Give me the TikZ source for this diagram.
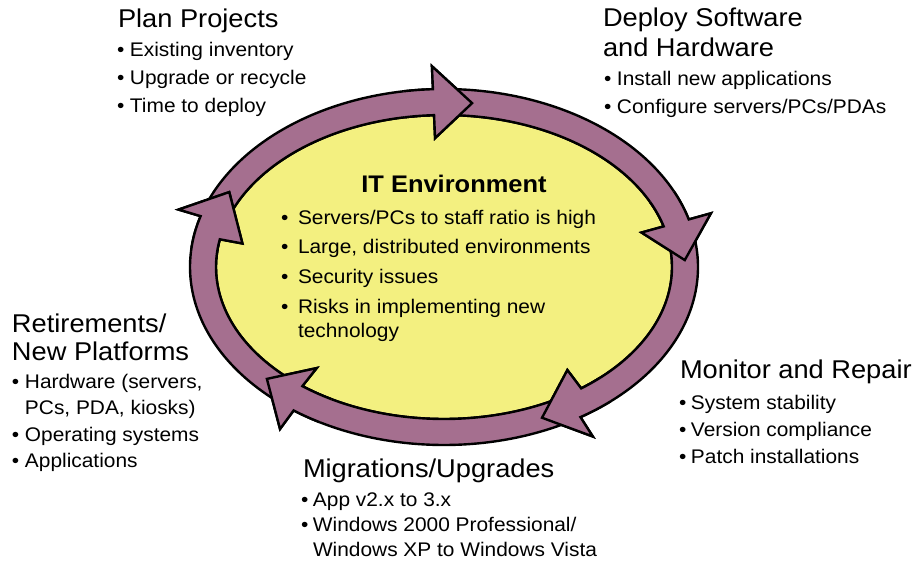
\documentclass[tikz,border=0pt]{standalone}
\usepackage{fontspec}
\setmainfont{Liberation Sans}[FakeStretch=1.06]
\definecolor{ringfill}{RGB}{165,111,143}
\definecolor{envfill}{RGB}{243,240,128}

% ring geometry: centre (444,267), band mid radii 241/165, band half width 13, head half width 36
\newcommand\segpath[4]{% #1 start angle, #2 outer end, #3 inner end, #4 tip angle
  plot[domain=#1:#2,samples=60,variable=\t] ({444+254*cos(\t)},{267-178*sin(\t)})
  -- ({444+277*cos(#2)},{267-201*sin(#2)})
  -- ({444+241*cos(#4)},{267-165*sin(#4)})
  -- ({444+205*cos(#3)},{267-129*sin(#3)})
  -- plot[domain=#3:#1,samples=60,variable=\t] ({444+228*cos(\t)},{267-152*sin(\t)})
  -- cycle}
\newcommand\headspot[3]{({444+(277*cos(#1)+205*cos(#2)+241*cos(#3))/3},{267-(201*sin(#1)+129*sin(#2)+165*sin(#3))/3})}

% bulleted lists
\newlength\bltind
\newcommand\blt[1]{\par\hangindent=\bltind\hangafter=1\noindent\makebox[\bltind][l]{\textbullet}#1}
\newcommand\listbox[4]{\parbox[t]{330pt}{\setlength\bltind{#1}\fontsize{19.7}{#2}\selectfont\setlength\parskip{#3}\raggedright #4}}
\newcommand\titlebox[2]{\parbox[t]{330pt}{\fontsize{25.7}{#1}\selectfont\raggedright #2}}

\begin{document}
\begin{tikzpicture}[x=1pt,y=-1pt,
  ring/.style={fill=ringfill,draw=black,line width=2.4pt,line join=miter},
  txt/.style={anchor=base west,inner sep=0pt,outer sep=0pt}]
\useasboundingbox (0,0) rectangle (915,564);
\fill[white] (0,0) rectangle (915,564);

% central environment
\filldraw[fill=envfill,draw=black,line width=2.4pt] (444,267) ellipse [x radius=228pt,y radius=152pt];

% cycle arrows, first pass
\path[ring] \segpath{161}{92.5}{92.5}{83.3};
\path[ring] \segpath{89}{15.5}{15.5}{2.4};
\path[ring] \segpath{10.3}{-57.5}{-53}{-66};
\path[ring] \segpath{-59.5}{-126.3}{-128.4}{-137.3};
\path[ring] \segpath{-131}{-196.6}{-190.5}{-207};

% arrow heads lie on top of the following band
\begin{scope}\clip \headspot{92.5}{92.5}{83.3} circle (44pt);
  \path[ring] \segpath{161}{92.5}{92.5}{83.3};\end{scope}
\begin{scope}\clip \headspot{15.5}{15.5}{2.4} circle (44pt);
  \path[ring] \segpath{89}{15.5}{15.5}{2.4};\end{scope}
\begin{scope}\clip \headspot{-57.5}{-53}{-66} circle (44pt);
  \path[ring] \segpath{10.3}{-57.5}{-53}{-66};\end{scope}
\begin{scope}\clip \headspot{-126.3}{-128.4}{-137.3} circle (44pt);
  \path[ring] \segpath{-59.5}{-126.3}{-128.4}{-137.3};\end{scope}
\begin{scope}\clip \headspot{-196.6}{-190.5}{-207} circle (44pt);
  \path[ring] \segpath{-131}{-196.6}{-190.5}{-207};\end{scope}

% centre text
\node[anchor=base,inner sep=0pt] (env-title) at (454,193)
  {\fontsize{24}{28}\selectfont\bfseries IT Environment};
\node[txt] (env-list) at (281,224) {\listbox{17pt}{24pt}{5.7pt}{%
  \blt{Servers/PCs to staff ratio is high}
  \blt{Large, distributed environments}
  \blt{Security issues}
  \blt{Risks in implementing new\newline technology}}};

% stages
\node[txt] (plan-title) at (118,28) {\titlebox{30pt}{Plan Projects}};
\node[txt] (plan-list) at (117,57) {\listbox{13pt}{28pt}{0pt}{%
  \blt{Existing inventory}
  \blt{Upgrade or recycle}
  \blt{Time to deploy}}};

\node[txt] (deploy-title) at (603,27) {\titlebox{30pt}{Deploy Software\\and Hardware}};
\node[txt] (deploy-list) at (604,86) {\listbox{13pt}{28pt}{0pt}{%
  \blt{Install new applications}
  \blt{Configure servers/PCs/PDAs}}};

\node[txt] (monitor-title) at (680,378) {\titlebox{30pt}{Monitor and Repair}};
\node[txt] (monitor-list) at (679,409) {\listbox{12pt}{27pt}{0pt}{%
  \blt{System stability}
  \blt{Version compliance}
  \blt{Patch installations}}};

\node[txt] (migrate-title) at (303,477) {\titlebox{30pt}{Migrations/Upgrades}};
\node[txt] (migrate-list) at (301,506) {\listbox{12pt}{25pt}{0pt}{%
  \blt{App v2.x to 3.x}
  \blt{Windows 2000 Professional/\newline Windows XP to Windows Vista}}};

\node[txt] (retire-title) at (12,332) {\titlebox{28.3pt}{Retirements/\\New Platforms}};
\node[txt] (retire-list) at (12,388) {\listbox{13pt}{26.5pt}{0pt}{%
  \blt{Hardware (servers,\newline PCs, PDA, kiosks)}
  \blt{Operating systems}
  \blt{Applications}}};
\end{tikzpicture}
\end{document}
